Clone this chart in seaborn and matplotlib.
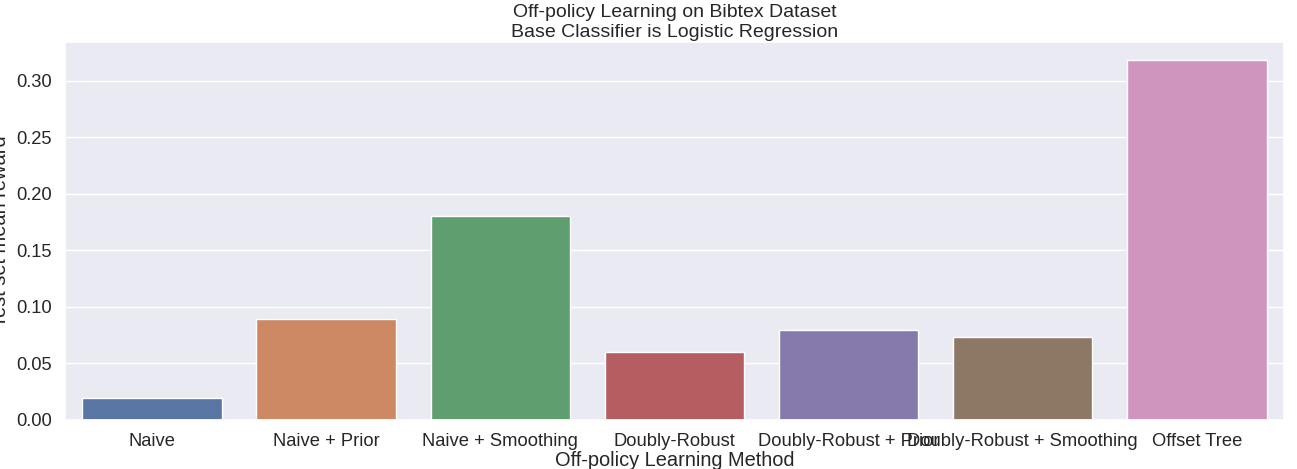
import matplotlib
matplotlib.use("Agg")
import matplotlib.pyplot as plt
import seaborn as sns
import pandas as pd

methods = ["Naive", "Naive + Prior", "Naive + Smoothing", "Doubly-Robust",
           "Doubly-Robust + Prior", "Doubly-Robust + Smoothing", "Offset Tree"]
rewards = [0.0195, 0.0895, 0.180, 0.0600, 0.0795, 0.0735, 0.318]

df = pd.DataFrame({"method": methods, "reward": rewards})

sns.set_theme(style="darkgrid", font_scale=1.2)
plt.rcParams["font.family"] = ["Liberation Sans", "DejaVu Sans"]
fig, ax = plt.subplots(figsize=(12.97, 4.69), dpi=100)
sns.barplot(data=df, x="method", y="reward", hue="method", palette="deep",
            legend=False, ax=ax)
ax.set_title("Off-policy Learning on Bibtex Dataset\nBase Classifier is Logistic Regression",
             fontsize=14, pad=4)
ax.set_xlabel("Off-policy Learning Method", labelpad=1)
ax.set_ylabel("Test set mean reward")
fig.subplots_adjust(left=0.05, right=0.99, top=0.91, bottom=0.105)
plt.savefig("out.png", dpi=100)
